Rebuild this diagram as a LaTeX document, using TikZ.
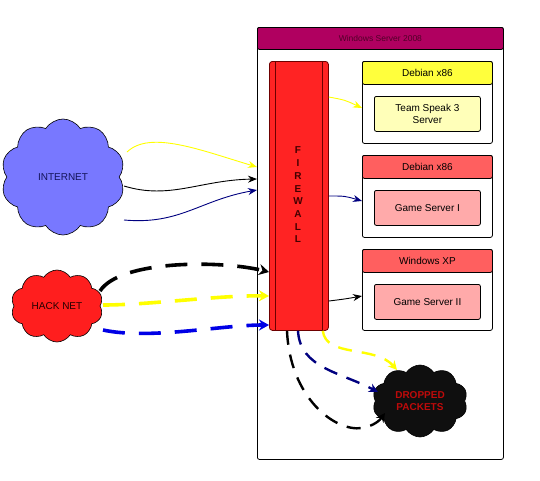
\documentclass[tikz,border=0pt]{standalone}
\usepackage{fontspec}
\setmainfont{Liberation Sans}
\usetikzlibrary{shapes.symbols,arrows.meta,calc}
\definecolor{wshead}{RGB}{176,0,96}
\definecolor{wstext}{RGB}{80,0,40}
\definecolor{yhead}{RGB}{255,255,60}
\definecolor{ybody}{RGB}{255,255,185}
\definecolor{rhead}{RGB}{255,95,95}
\definecolor{rbody}{RGB}{255,170,170}
\definecolor{fwred}{RGB}{255,35,35}
\definecolor{fwedge}{RGB}{110,0,0}
\definecolor{inetblue}{RGB}{120,120,255}
\definecolor{inettext}{RGB}{20,20,90}
\definecolor{hackred}{RGB}{255,30,30}
\definecolor{dropblack}{RGB}{15,15,15}
\definecolor{droptext}{RGB}{190,10,10}
\definecolor{ayellow}{RGB}{255,255,0}
\definecolor{anavy}{RGB}{0,0,128}
\definecolor{ablue}{RGB}{0,0,230}
\tikzset{
  box/.style={draw=black, line width=0.8pt, rounded corners=2pt, anchor=north west, inner sep=0pt},
  headbox/.style={box, font=\fontsize{10}{12}\selectfont},
  inbox/.style={box, font=\fontsize{10}{12}\selectfont, align=center},
  cloudnode/.style={cloud, cloud puffs=10, cloud puff arc=115, cloud ignores aspect, draw=black, line width=0.6pt, inner sep=0pt, font=\fontsize{10}{12}\selectfont, align=center},
  thinarrow/.style={line width=0.9pt, -{Stealth[length=9pt,width=7pt]}},
  thickdash/.style={line width=3.6pt, dash pattern=on 22pt off 14pt, -{Stealth[length=10pt,width=11pt]}},
  dropdash/.style={line width=2.4pt, dash pattern=on 14pt off 10pt, -{Stealth[length=9pt,width=9pt]}}
}
\begin{document}
\begin{tikzpicture}[x=1pt,y=-1pt]
\useasboundingbox[fill=white] (0,0) rectangle (540,480);
% Windows server
\node[box, minimum width=246pt, minimum height=432pt] (ws) at (257,27) {};
\node[box, fill=wshead, text=wstext, font=\fontsize{8.5}{10}\selectfont, minimum width=246pt, minimum height=22pt] (wsh) at (257,27) {Windows Server 2008};
% Firewall
\node[draw=fwedge, line width=0.8pt, fill=fwred, rounded corners=3pt, minimum width=59pt, minimum height=269pt, anchor=north west, inner sep=0pt] (fw) at (269,61) {};
\draw[fwedge, line width=0.8pt] ($(fw.north west)+(6,0)$) -- ($(fw.south west)+(6,0)$);
\draw[fwedge, line width=0.8pt] ($(fw.north east)+(-6,0)$) -- ($(fw.south east)+(-6,0)$);
\node[font=\bfseries\fontsize{10}{12.7}\selectfont, text=fwedge!60!black, align=center] (fwt) at (298,195) {F\\I\\R\\E\\W\\A\\L\\L};
% Debian 1
\node[box, minimum width=130pt, minimum height=82pt] (d1) at (362,61) {};
\node[headbox, fill=yhead, minimum width=130pt, minimum height=23pt] (d1h) at (362,61) {Debian x86};
\node[inbox, fill=ybody, minimum width=106pt, minimum height=35pt] (ts) at (374,96) {Team Speak 3\\Server};
% Debian 2
\node[box, minimum width=130pt, minimum height=82pt] (d2) at (362,155) {};
\node[headbox, fill=rhead, minimum width=130pt, minimum height=23pt] (d2h) at (362,155) {Debian x86};
\node[inbox, fill=rbody, minimum width=106pt, minimum height=35pt] (gs1) at (374,190) {Game Server I};
% Windows XP
\node[box, minimum width=130pt, minimum height=81pt] (xp) at (362,249) {};
\node[headbox, fill=rhead, minimum width=130pt, minimum height=23pt] (xph) at (362,249) {Windows XP};
\node[inbox, fill=rbody, minimum width=106pt, minimum height=35pt] (gs2) at (374,284) {Game Server II};
% Clouds
\node[cloudnode, fill=inetblue, text=inettext, minimum width=124pt, minimum height=116pt] (inet) at (63,177) {INTERNET};
\node[cloudnode, fill=hackred, text=black!85!red, minimum width=92pt, minimum height=72pt] (hack) at (57,306) {HACK NET};
\node[cloudnode, fill=dropblack, text=droptext, font=\bfseries\fontsize{10}{12}\selectfont, minimum width=95pt, minimum height=72pt] (drop) at (420,401) {DROPPED\\PACKETS};
% Internet arrows
\draw[thinarrow, ayellow] ($(inet.center)+(64,-25)$) .. controls (150,130) and (200,150) .. (ws.west |- 0,167);
\draw[thinarrow, black] ($(inet.center)+(61,9)$) .. controls (170,200) and (200,180) .. (ws.west |- 0,179);
\draw[thinarrow, anavy] ($(inet.center)+(61,43)$) .. controls (180,225) and (200,200) .. (ws.west |- 0,190);
% Hack net arrows
\draw[thickdash, black] ($(hack.center)+(43,-15)$) .. controls (120,260) and (220,260) .. (fw.west |- 0,272);
\draw[thickdash, ayellow] ($(hack.center)+(46,-1)$) .. controls (150,305) and (220,295) .. (fw.west |- 0,296);
\draw[thickdash, ablue] ($(hack.center)+(46,24)$) .. controls (150,340) and (220,325) .. (fw.west |- 0,325);
% Firewall to servers
\draw[thinarrow, ayellow] (fw.east |- 0,97) .. controls (345,100) .. (d1.west |- 0,108);
\draw[thinarrow, anavy] (fw.east |- 0,196) .. controls (345,196) .. (d2.west |- 0,201);
\draw[thinarrow, black] (fw.east |- 0,301) .. controls (345,299) .. (xp.west |- 0,296);
% Dropped
\draw[dropdash, ayellow] ($(fw.south east)+(-6,0)$) .. controls (326,358) and (375,345) .. ($(drop.center)+(-23,-31)$);
\draw[dropdash, anavy] ($(fw.south west)+(29,0)$) .. controls (300,368) and (340,372) .. ($(drop.center)+(-42,-9)$);
\draw[dropdash, black] ($(fw.south west)+(18,0)$) .. controls (290,398) and (335,432) .. (362,428) .. controls (374,426) and (380,420) .. ($(drop.center)+(-35,12)$);
\end{tikzpicture}
\end{document}
